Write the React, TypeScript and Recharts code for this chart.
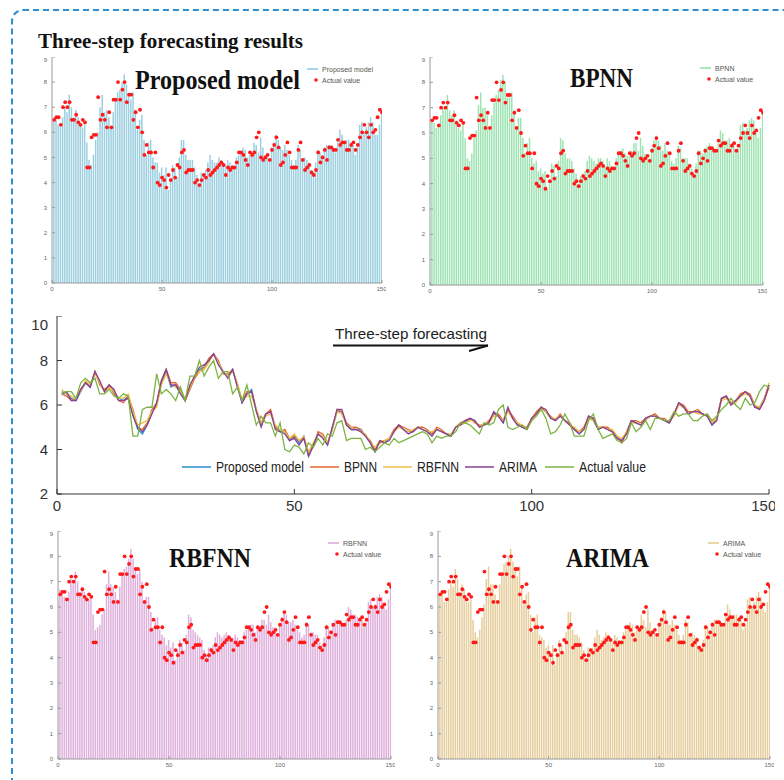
import { ComposedChart, Bar, Line, XAxis, YAxis } from 'recharts';

// time step index on the x axis
const stepIndex = Array.from({ length: 150 }, (_, i) => i + 1);

const actualValue = [
  6.5, 6.6, 6.6, 6.3, 7.0, 7.2, 7.0, 7.2, 6.5, 6.5,
  6.7, 6.4, 6.3, 6.5, 6.4, 4.6, 4.6, 5.8, 5.9, 5.9,
  7.4, 6.5, 6.7, 6.5, 6.2, 6.8, 6.2, 7.3, 7.3, 8.0,
  7.3, 7.7, 8.0, 7.2, 7.5, 7.5, 6.5, 6.8, 6.2, 6.9,
  6.0, 5.1, 5.5, 5.2, 5.2, 4.6, 5.2, 4.0, 3.9, 4.2,
  4.1, 3.8, 4.3, 4.1, 4.5, 4.2, 4.7, 4.6, 5.2, 5.3,
  4.4, 4.5, 4.5, 4.5, 4.0, 4.1, 3.9, 4.1, 4.3, 4.2,
  4.5, 4.3, 4.4, 4.5, 4.6, 4.7, 4.8, 4.7, 4.3, 4.6,
  4.5, 4.6, 4.6, 4.8, 5.2, 5.2, 5.1, 4.9, 4.7, 5.2,
  5.1, 5.2, 5.8, 6.0, 5.0, 4.9, 5.0, 5.1, 4.9, 5.3,
  5.5, 5.8, 5.4, 4.7, 4.8, 5.1, 5.6, 5.2, 4.6, 4.6,
  4.6, 5.3, 5.6, 4.9, 4.5, 4.6, 4.7, 4.4, 4.3, 4.5,
  5.2, 4.8, 5.0, 5.3, 4.9, 5.4, 5.4, 5.3, 5.3, 5.7,
  5.5, 5.6, 5.6, 5.3, 5.3, 5.5, 5.6, 5.3, 5.5, 5.8,
  6.0, 6.3, 6.0, 5.8, 6.3, 6.0, 6.1, 6.6, 6.9, 6.8,
];

const proposedModel = [
  6.6, 6.5, 6.3, 6.2, 6.6, 7.0, 6.8, 7.5, 7.0, 6.6,
  6.9, 6.6, 6.3, 6.2, 6.4, 5.6, 4.9, 4.7, 5.1, 5.7,
  6.0, 7.0, 7.5, 6.8, 6.9, 6.6, 6.2, 6.8, 7.3, 7.6,
  7.7, 8.0, 8.3, 7.9, 7.5, 7.3, 7.6, 6.9, 6.1, 6.5,
  6.7, 5.7, 5.1, 5.6, 5.7, 5.0, 4.8, 4.8, 4.4, 4.6,
  4.3, 4.6, 3.7, 4.2, 4.7, 4.6, 4.2, 5.0, 5.7, 5.7,
  5.1, 4.9, 4.9, 4.9, 4.6, 4.3, 3.9, 4.4, 4.3, 4.5,
  4.8, 5.1, 4.9, 4.8, 4.8, 5.0, 4.9, 4.8, 4.7, 4.9,
  4.8, 4.7, 4.6, 5.0, 5.1, 5.2, 5.4, 5.3, 5.0, 5.1,
  5.2, 5.6, 5.5, 5.2, 5.8, 5.4, 5.1, 5.0, 4.9, 5.4,
  5.6, 5.9, 5.7, 5.4, 5.3, 5.5, 5.3, 5.1, 4.9, 4.7,
  4.9, 5.5, 5.3, 4.9, 5.0, 4.9, 4.8, 4.5, 4.4, 4.8,
  5.3, 5.2, 5.1, 5.4, 5.5, 5.5, 5.4, 5.3, 5.2, 5.6,
  6.1, 5.9, 5.6, 5.7, 5.7, 5.6, 5.5, 5.1, 5.4, 6.3,
  6.4, 6.0, 6.2, 6.4, 6.6, 6.4, 5.9, 5.9, 6.3, 6.9,
];

const bpnn = [
  6.5, 6.4, 6.2, 6.3, 6.7, 7.0, 6.9, 7.5, 6.9, 6.7,
  6.9, 6.5, 6.2, 6.1, 6.4, 5.8, 5.0, 4.9, 5.2, 5.8,
  6.1, 7.1, 7.6, 7.0, 7.0, 6.7, 6.2, 6.7, 7.2, 7.5,
  7.7, 8.1, 8.3, 8.0, 7.4, 7.4, 7.6, 6.9, 6.2, 6.6,
  6.6, 5.8, 5.2, 5.6, 5.8, 5.0, 4.8, 4.9, 4.5, 4.6,
  4.4, 4.5, 3.8, 4.1, 4.8, 4.7, 4.3, 4.9, 5.8, 5.7,
  5.2, 5.0, 5.0, 4.9, 4.6, 4.4, 4.0, 4.3, 4.4, 4.5,
  4.9, 5.1, 5.0, 4.9, 4.8, 5.0, 5.0, 4.9, 4.7, 5.0,
  4.9, 4.7, 4.6, 5.0, 5.2, 5.3, 5.4, 5.2, 5.1, 5.1,
  5.3, 5.6, 5.6, 5.3, 5.8, 5.5, 5.2, 5.0, 5.0, 5.4,
  5.7, 5.9, 5.7, 5.5, 5.3, 5.6, 5.3, 5.2, 4.9, 4.8,
  5.0, 5.5, 5.4, 5.0, 5.0, 5.0, 4.8, 4.6, 4.3, 4.8,
  5.3, 5.3, 5.2, 5.4, 5.5, 5.6, 5.4, 5.4, 5.2, 5.6,
  6.1, 6.0, 5.7, 5.7, 5.8, 5.6, 5.5, 5.2, 5.4, 6.3,
  6.4, 6.1, 6.2, 6.5, 6.6, 6.5, 6.0, 5.8, 6.2, 6.8,
];

const rbfnn = [
  6.7, 6.5, 6.4, 6.3, 6.6, 7.1, 6.9, 7.4, 7.0, 6.6,
  6.8, 6.6, 6.3, 6.3, 6.5, 5.7, 5.1, 5.2, 5.3, 5.7,
  5.9, 6.9, 7.4, 6.9, 6.8, 6.6, 6.3, 6.8, 7.3, 7.5,
  7.6, 7.9, 8.3, 7.9, 7.5, 7.3, 7.5, 7.0, 6.2, 6.4,
  6.4, 5.8, 5.2, 5.5, 5.6, 5.1, 4.9, 4.8, 4.5, 4.7,
  4.4, 4.6, 3.9, 4.3, 4.7, 4.6, 4.3, 4.9, 5.7, 5.6,
  5.1, 5.0, 4.9, 4.8, 4.7, 4.3, 4.1, 4.4, 4.4, 4.5,
  4.8, 5.0, 4.9, 4.8, 4.9, 5.0, 4.9, 4.8, 4.8, 4.9,
  4.8, 4.7, 4.7, 5.0, 5.1, 5.2, 5.3, 5.3, 5.0, 5.2,
  5.2, 5.5, 5.5, 5.3, 5.7, 5.4, 5.2, 5.1, 4.9, 5.3,
  5.6, 5.8, 5.7, 5.4, 5.4, 5.5, 5.3, 5.1, 5.0, 4.8,
  4.9, 5.4, 5.3, 5.0, 5.0, 4.9, 4.9, 4.6, 4.5, 4.8,
  5.2, 5.2, 5.1, 5.3, 5.5, 5.5, 5.4, 5.3, 5.3, 5.5,
  6.0, 5.9, 5.6, 5.7, 5.6, 5.6, 5.5, 5.2, 5.4, 6.2,
  6.3, 6.0, 6.1, 6.4, 6.5, 6.4, 6.0, 5.9, 6.3, 7.0,
];

const arima = [
  6.5, 6.6, 6.2, 6.2, 6.7, 7.0, 6.8, 7.5, 7.1, 6.6,
  6.9, 6.7, 6.2, 6.2, 6.3, 5.5, 5.0, 4.8, 5.1, 5.6,
  6.1, 7.1, 7.6, 6.9, 6.9, 6.5, 6.2, 6.9, 7.3, 7.7,
  7.8, 8.0, 8.3, 7.8, 7.5, 7.2, 7.6, 6.8, 6.1, 6.5,
  6.6, 5.7, 5.0, 5.6, 5.7, 4.9, 4.8, 4.7, 4.4, 4.5,
  4.2, 4.5, 3.7, 4.2, 4.7, 4.5, 4.2, 5.0, 5.8, 5.8,
  5.1, 4.9, 4.9, 4.8, 4.6, 4.3, 3.9, 4.4, 4.3, 4.4,
  4.8, 5.1, 4.9, 4.7, 4.8, 5.0, 4.9, 4.8, 4.6, 4.9,
  4.8, 4.7, 4.6, 5.0, 5.1, 5.3, 5.4, 5.3, 5.0, 5.1,
  5.2, 5.7, 5.5, 5.2, 5.9, 5.4, 5.1, 5.0, 4.9, 5.4,
  5.6, 5.9, 5.8, 5.4, 5.3, 5.5, 5.3, 5.1, 4.9, 4.7,
  4.9, 5.5, 5.4, 4.9, 5.0, 4.9, 4.8, 4.5, 4.4, 4.7,
  5.3, 5.2, 5.1, 5.4, 5.5, 5.5, 5.4, 5.3, 5.2, 5.6,
  6.1, 5.9, 5.6, 5.7, 5.7, 5.6, 5.5, 5.1, 5.3, 6.3,
  6.4, 6.0, 6.2, 6.4, 6.6, 6.4, 5.9, 5.8, 6.2, 6.9,
];

const barTicksX = [0, 50, 100, 150];
const barTicksY = [0, 1, 2, 3, 4, 5, 6, 7, 8, 9];
const lineTicksX = [0, 50, 100, 150];
const lineTicksY = [2, 4, 6, 8, 10];

const SANS = "'Liberation Sans', Arial, sans-serif";
const SERIF = "'Liberation Serif', 'Times New Roman', serif";

const lineColors = {
  proposed: '#2a8ccc',
  bpnn: '#e0692e',
  rbfnn: '#efbf45',
  arima: '#8a3f98',
  actual: '#7cb342',
};

type PanelProps = {
  plotLeft: number;
  plotTop: number;
  plotW: number;
  plotH: number;
  values: number[];
  fill: string;
};

function BarPanel({ plotLeft, plotTop, plotW, plotH, values, fill }: PanelProps) {
  const data = stepIndex.map((x, i) => ({ x, pred: values[i], actual: actualValue[i] }));
  const yw = 22;
  const axisColor = '#9a9a9a';
  const tickStyle = { fontSize: 6, fill: '#666', fontFamily: SANS };
  return (
    <div style={{ position: 'absolute', left: plotLeft - yw, top: plotTop }}>
      <ComposedChart
        width={yw + plotW + 4}
        height={plotH + 16}
        data={data}
        margin={{ top: 0, right: 4, left: 0, bottom: 0 }}
      >
        <XAxis
          xAxisId="b"
          type="number"
          dataKey="x"
          domain={[0, 150]}
          ticks={barTicksX}
          allowDataOverflow
          height={16}
          stroke={axisColor}
          tickSize={-3}
          tickMargin={7}
          tick={tickStyle}
        />
        <XAxis
          xAxisId="t"
          orientation="top"
          type="number"
          dataKey="x"
          domain={[0, 150]}
          ticks={barTicksX}
          allowDataOverflow
          height={0}
          stroke={axisColor}
          tickSize={-3}
          tick={false}
        />
        <YAxis
          yAxisId="l"
          domain={[0, 9]}
          ticks={barTicksY}
          width={yw}
          stroke={axisColor}
          tickSize={-3}
          tickMargin={8}
          tick={tickStyle}
        />
        <YAxis
          yAxisId="r"
          orientation="right"
          domain={[0, 9]}
          ticks={barTicksY}
          width={0}
          stroke={axisColor}
          tickSize={-3}
          tick={false}
        />
        <Bar xAxisId="b" yAxisId="l" dataKey="pred" fill={fill} barSize={1.5} isAnimationActive={false} />
        <Line
          xAxisId="b"
          yAxisId="l"
          dataKey="actual"
          stroke="none"
          dot={{ r: 1.9, fill: '#ff1a1a', stroke: 'none' }}
          activeDot={false}
          isAnimationActive={false}
        />
      </ComposedChart>
    </div>
  );
}

function ComparisonPanel() {
  const data = stepIndex.map((x, i) => ({
    x,
    proposed: proposedModel[i],
    bpnn: bpnn[i],
    rbfnn: rbfnn[i],
    arima: arima[i],
    actual: actualValue[i],
  }));
  const yw = 37;
  const axisColor = '#333';
  const tickStyle = { fontSize: 15, fill: '#333', fontFamily: SANS };
  return (
    <div style={{ position: 'absolute', left: 57 - yw, top: 316 }}>
      <ComposedChart width={yw + 712 + 6} height={178 + 26} data={data} margin={{ top: 0, right: 6, left: 0, bottom: 0 }}>
        <XAxis
          xAxisId="b"
          type="number"
          dataKey="x"
          domain={[0, 150]}
          ticks={lineTicksX}
          height={26}
          stroke={axisColor}
          tickSize={-5}
          tickMargin={11}
          tick={tickStyle}
        />
        <XAxis
          xAxisId="t"
          orientation="top"
          type="number"
          dataKey="x"
          domain={[0, 150]}
          ticks={lineTicksX}
          height={0}
          stroke={axisColor}
          tickSize={-5}
          tick={false}
        />
        <YAxis
          yAxisId="l"
          domain={[2, 10]}
          ticks={lineTicksY}
          width={yw}
          stroke={axisColor}
          tickSize={-5}
          tickMargin={14}
          tick={tickStyle}
        />
        <YAxis
          yAxisId="r"
          orientation="right"
          domain={[2, 10]}
          ticks={lineTicksY}
          width={0}
          stroke={axisColor}
          tickSize={-5}
          tick={false}
        />
        <Line xAxisId="b" yAxisId="l" dataKey="proposed" stroke={lineColors.proposed} strokeWidth={1.3} dot={false} isAnimationActive={false} />
        <Line xAxisId="b" yAxisId="l" dataKey="bpnn" stroke={lineColors.bpnn} strokeWidth={1.3} dot={false} isAnimationActive={false} />
        <Line xAxisId="b" yAxisId="l" dataKey="rbfnn" stroke={lineColors.rbfnn} strokeWidth={1.3} dot={false} isAnimationActive={false} />
        <Line xAxisId="b" yAxisId="l" dataKey="arima" stroke={lineColors.arima} strokeWidth={1.3} dot={false} isAnimationActive={false} />
        <Line xAxisId="b" yAxisId="l" dataKey="actual" stroke={lineColors.actual} strokeWidth={1.3} dot={false} isAnimationActive={false} />
      </ComposedChart>
    </div>
  );
}

// small legend in the corner of each bar panel
function SmallLegend({ x, y, name, color }: { x: number; y: number; name: string; color: string }) {
  return (
    <g fontFamily={SANS} fontSize={7} fill="#555">
      <line x1={x} y1={y} x2={x + 11} y2={y} stroke={color} strokeWidth={1.5} />
      <text x={x + 15} y={y + 2.5}>{name}</text>
      <circle cx={x + 9} cy={y + 11} r={1.8} fill="#ff1a1a" />
      <text x={x + 15} y={y + 13.5}>Actual value</text>
    </g>
  );
}

const bigLegend = [
  { name: 'Proposed model', color: lineColors.proposed, x: 182, w: 88 },
  { name: 'BPNN', color: lineColors.bpnn, x: 310, w: 33 },
  { name: 'RBFNN', color: lineColors.rbfnn, x: 383, w: 42 },
  { name: 'ARIMA', color: lineColors.arima, x: 465, w: 38 },
  { name: 'Actual value', color: lineColors.actual, x: 545, w: 67 },
];

function Labels() {
  return (
    <svg width={784} height={780} style={{ position: 'absolute', left: 0, top: 0, pointerEvents: 'none' }}>
      <text x={38} y={48} fontFamily={SERIF} fontWeight="bold" fontSize={20} textLength={265} lengthAdjust="spacingAndGlyphs" fill="#111">
        Three-step forecasting results
      </text>
      <g fontFamily={SERIF} fontWeight="bold" fontSize={27} fill="#111">
        <text x={135} y={89} textLength={165} lengthAdjust="spacingAndGlyphs">Proposed model</text>
        <text x={570} y={87} textLength={63} lengthAdjust="spacingAndGlyphs">BPNN</text>
        <text x={169} y={567} textLength={82} lengthAdjust="spacingAndGlyphs">RBFNN</text>
        <text x={566} y={567} textLength={83} lengthAdjust="spacingAndGlyphs">ARIMA</text>
      </g>

      <SmallLegend x={307} y={69} name="Proposed model" color="#8cc8dc" />
      <SmallLegend x={700} y={68} name="BPNN" color="#8fe0a8" />
      <SmallLegend x={328} y={543} name="RBFNN" color="#dba6d8" />
      <SmallLegend x={708} y={543} name="ARIMA" color="#e4c88e" />

      <text x={335} y={339} fontFamily={SANS} fontSize={15} fill="#222" textLength={152} lengthAdjust="spacingAndGlyphs">
        Three-step forecasting
      </text>
      <line x1={333} y1={345.5} x2={488} y2={345.5} stroke="#111" strokeWidth={2.2} />
      <line x1={488} y1={345.5} x2={469} y2={351} stroke="#111" strokeWidth={2} />

      <g fontFamily={SANS} fontSize={14} fill="#222">
        {bigLegend.map((it) => (
          <g key={it.name}>
            <line x1={it.x} y1={467} x2={it.x + 29} y2={467} stroke={it.color} strokeWidth={1.5} />
            <text x={it.x + 34} y={472} textLength={it.w} lengthAdjust="spacingAndGlyphs">{it.name}</text>
          </g>
        ))}
      </g>
    </svg>
  );
}

export default function App() {
  return (
    <div style={{ position: 'absolute', left: 0, top: 0, width: 784, height: 780, background: '#fff', overflow: 'hidden' }}>
      <div
        style={{
          position: 'absolute',
          left: 11,
          top: 9,
          width: 820,
          height: 820,
          border: '2.5px dashed #2b8fd1',
          borderRadius: 12,
        }}
      />
      <BarPanel plotLeft={52} plotTop={57} plotW={330} plotH={226} values={proposedModel} fill="#9ccfe0" />
      <BarPanel plotLeft={430} plotTop={57} plotW={333} plotH={228} values={bpnn} fill="#9ee4b3" />
      <ComparisonPanel />
      <BarPanel plotLeft={58} plotTop={531} plotW={333} plotH={228} values={rbfnn} fill="#dfb0dc" />
      <BarPanel plotLeft={438} plotTop={531} plotW={332} plotH={228} values={arima} fill="#e6cd9c" />
      <Labels />
    </div>
  );
}
